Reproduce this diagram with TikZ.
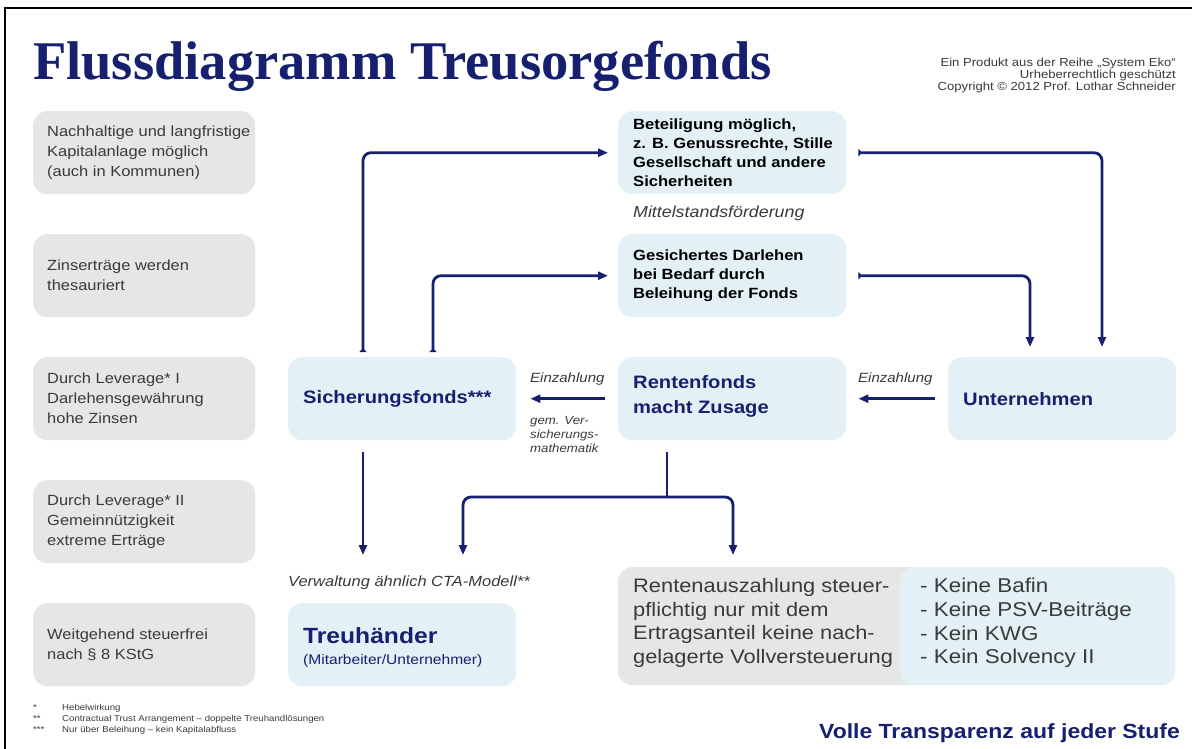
\documentclass[tikz,border=0pt]{standalone}
\usepackage{fontspec}
\setmainfont{Liberation Sans}[FakeStretch=1.12]
\newfontfamily\titlefont{Liberation Serif}
\usetikzlibrary{arrows.meta}
\definecolor{navy}{HTML}{16206E}
\definecolor{greybox}{HTML}{E6E6E6}
\definecolor{bluebox}{HTML}{E3F1F6}
\definecolor{txt}{HTML}{3A3A3A}
\tikzset{
  basebox/.style={rounded corners=14pt, draw=none, minimum width=228pt, minimum height=83pt,
    anchor=north west, inner sep=0pt},
  greyb/.style={basebox, fill=greybox, minimum width=222pt},
  blueb/.style={basebox, fill=bluebox},
  lt/.style={anchor=west, align=left, inner sep=0pt},
  greytxt/.style={lt, font=\fontsize{14.7}{20}\selectfont, text=txt},
  boldtxt/.style={lt, font=\bfseries\fontsize{14.8}{19}\selectfont, text=black},
  headtxt/.style={lt, font=\bfseries\fontsize{18}{25}\selectfont, text=navy},
  ital/.style={font=\itshape\fontsize{13.4}{14}\selectfont, text=txt, inner sep=0pt},
  flow/.style={draw=navy, line width=2.8pt, rounded corners=8pt,
    {Triangle[reversed,length=4pt,width=7pt]}-{Triangle[length=10pt,width=8pt]}},
  flowplain/.style={draw=navy, line width=2.8pt, rounded corners=8pt, -{Triangle[length=10pt,width=8pt]}},
  plainline/.style={draw=navy, line width=2.8pt},
}
\begin{document}
\begin{tikzpicture}[x=1pt,y=-1pt]
\useasboundingbox (0,0) rectangle (1192,749);
\fill[white] (0,0) rectangle (1192,749);
\draw[line width=2pt] (5,749) -- (5,8) -- (1192,8);

% title
\node[anchor=base west, inner sep=0pt, text=navy, font=\titlefont\bfseries\fontsize{54.5}{60}\selectfont] (title) at (33,80) {Flussdiagramm Treusorgefonds};
\node[anchor=north east, inner sep=0pt, align=right, text=txt, font=\fontsize{11.7}{12}\selectfont] (copy) at (1176,58)
  {Ein Produkt aus der Reihe „System Eko“\\Urheberrechtlich geschützt\\Copyright © 2012 Prof. Lothar Schneider};

% left grey boxes
\node[greyb] (l1) at (33,111) {};
\node[greytxt] (l1t) at ([xshift=14pt]l1.west) {Nachhaltige und langfristige\\Kapitalanlage möglich\\(auch in Kommunen)};
\node[greyb] (l2) at (33,234) {};
\node[greytxt] (l2t) at ([xshift=14pt]l2.west) {Zinserträge werden\\thesauriert};
\node[greyb] (l3) at (33,357) {};
\node[greytxt] (l3t) at ([xshift=14pt]l3.west) {Durch Leverage* I\\Darlehensgewährung\\hohe Zinsen};
\node[greyb] (l4) at (33,480) {};
\node[greytxt] (l4t) at ([xshift=14pt]l4.west) {Durch Leverage* II\\Gemeinnützigkeit\\extreme Erträge};
\node[greyb] (l5) at (33,603) {};
\node[greytxt] (l5t) at ([xshift=14pt]l5.west) {Weitgehend steuerfrei\\nach § 8 KStG};

% blue boxes
\node[blueb] (bet) at (618,111) {};
\node[boldtxt] (bett) at ([xshift=15pt]bet.west) {Beteiligung möglich,\\z. B. Genussrechte, Stille\\Gesellschaft und andere\\Sicherheiten};
\node[ital, anchor=base west, font=\itshape\fontsize{15.9}{16}\selectfont] (mittel) at (633,218) {Mittelstandsförderung};
\node[blueb] (ges) at (618,234) {};
\node[boldtxt] (gest) at ([xshift=15pt]ges.west) {Gesichertes Darlehen\\bei Bedarf durch\\Beleihung der Fonds};
\node[blueb] (sich) at (288,357) {};
\node[headtxt] (sicht) at ([xshift=15pt]sich.west) {Sicherungsfonds***};
\node[blueb] (rent) at (618,357) {};
\node[headtxt] (rentt) at ([xshift=15pt,yshift=2pt]rent.west) {Rentenfonds\\macht Zusage};
\node[blueb] (unt) at (948,357) {};
\node[headtxt] (untt) at ([xshift=15pt]unt.west) {Unternehmen};
\node[blueb] (treu) at (288,603) {};
\node[lt, text=navy, font=\fontsize{13.9}{21}\selectfont] (treut) at ([xshift=15pt,yshift=-3pt]treu.west) {{\bfseries\fontsize{22}{22}\selectfont Treuhänder}\\(Mitarbeiter/Unternehmer)};

% labels
\node[ital, anchor=base west] (einz1) at (530,382) {Einzahlung};
\node[ital, anchor=base west] (einz2) at (858,382) {Einzahlung};
\node[ital, anchor=north west, align=left, font=\itshape\fontsize{11.8}{14}\selectfont] (gem) at (530,416) {gem. Ver-\\sicherungs-\\mathematik};
\node[ital, anchor=base west, font=\itshape\fontsize{14.7}{16}\selectfont] (verw) at (288,586) {Verwaltung ähnlich CTA-Modell**};

% Rentenauszahlung box
\node[rounded corners=14pt, fill=greybox, minimum width=557pt, minimum height=118pt, anchor=north west, inner sep=0pt] (rente) at (618,567) {};
\fill[bluebox, rounded corners=14pt] (900,567) rectangle (1175,685);
\node[lt, text=txt, font=\fontsize{19.5}{23.7}\selectfont] (rtext) at (633,623)
  {Rentenauszahlung steuer-\\pflichtig nur mit dem\\Ertragsanteil keine nach-\\gelagerte Vollversteuerung};
\node[lt, text=txt, font=\fontsize{20}{23.7}\selectfont] (ktext) at (920,623)
  {- Keine Bafin\\- Keine PSV-Beiträge\\- Kein KWG\\- Kein Solvency II};

% connectors
\draw[flow] ([xshift=75pt,yshift=5pt]sich.north west) |- ([xshift=-10pt]bet.west);
\draw[flow] ([xshift=145pt,yshift=5pt]sich.north west) |- ([xshift=-10pt]ges.west);
\draw[flow] ([xshift=12pt]bet.east) -| ([xshift=154pt,yshift=10pt]unt.north west);
\draw[flow] ([xshift=12pt]ges.east) -| ([xshift=82pt,yshift=10pt]unt.north west);
\draw[flowplain] ([xshift=-13pt]unt.west) -- ([xshift=12pt]rent.east);
\draw[flowplain] ([xshift=-13pt]rent.west) -- ([xshift=14pt]sich.east);
\draw[flowplain] ([xshift=75pt,yshift=-12pt]sich.south west) -- ([xshift=75pt,yshift=48pt]treu.north west);
\coordinate (split) at (667,497);
\draw[plainline] ([xshift=49pt,yshift=-12pt]rent.south west) -- (split);
\draw[flowplain] (split) -| ([xshift=175pt,yshift=48pt]treu.north west);
\draw[flowplain] (split) -| ([xshift=115pt,yshift=12pt]rente.north west);

% footnotes
\node[anchor=north west, inner sep=0pt, text=txt, font=\fontsize{8.6}{11}\selectfont] (foot) at (33,703)
  {\begin{tabular}{@{}p{29pt}@{}l@{}}
   {*} & Hebelwirkung\\
   {**} & Contractual Trust Arrangement – doppelte Treuhandlösungen\\
   {***} & Nur über Beleihung – kein Kapitalabfluss
   \end{tabular}};
\node[anchor=base east, inner sep=0pt, text=navy, font=\bfseries\fontsize{20.5}{22}\selectfont] (volle) at (1180,738) {Volle Transparenz auf jeder Stufe};
\end{tikzpicture}
\end{document}
